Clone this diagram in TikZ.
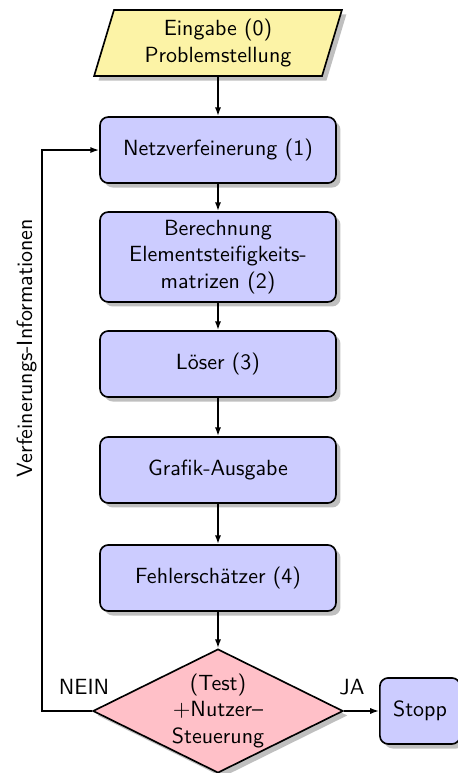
\documentclass[tikz,border=0pt]{standalone}
\usepackage{tikz}
\usetikzlibrary{arrows.meta,shapes.geometric,shadows}
\definecolor{eingabegelb}{RGB}{252,243,166}
\definecolor{kastenblau}{RGB}{204,204,255}
\definecolor{testrot}{RGB}{255,192,200}
\tikzset{
  style box/.style={
    rectangle, rounded corners=4pt, draw, thick, fill=kastenblau,
    minimum width=4cm, minimum height=1.12cm, align=center, inner sep=4pt,
    drop shadow,
  },
  style input/.style={
    trapezium, trapezium left angle=72, trapezium right angle=108,
    trapezium stretches body, draw, thick, fill=eingabegelb,
    minimum width=4.2cm, minimum height=1.12cm, align=center, drop shadow,
  },
  style test/.style={
    diamond, aspect=2, draw, thick, fill=testrot, inner sep=0pt,
    minimum width=4.24cm, minimum height=2.1cm, align=center, drop shadow,
  }
}

\begin{document}
\begin{tikzpicture}[font=\sffamily\fontsize{10.6pt}{12.7pt}\selectfont]
    \useasboundingbox (0,0) rectangle (7.763,13.102);
                    \node[style input] (eingabe) at (3.695, 12.373) {Eingabe (0)\\Problemstellung};

                    \node[style box] (netz) at (3.695, 10.559) {Netzverfeinerung (1)};
                    \node[style box] (berechnung) at (3.695, 8.746) {Berechnung\\Elementsteifigkeits-\\matrizen (2)};
                    \node[style box] (loeser) at (3.695, 6.932) {L\"oser (3)};
                    \node[style box] (grafik) at (3.695, 5.136) {Grafik-Ausgabe};
                    \node[style box] (fehler) at (3.695, 3.305) {Fehlersch\"atzer (4)};

                    \node[style test] (test) at (3.695, 1.051) {(Test)\\$+$Nutzer--\\Steuerung};
                    \node[style box, minimum width=1.36cm] (stopp) at (7.119, 1.051) {Stopp};

                    \coordinate (knick) at (0.712, 1.051);
                    \node[rotate=90] (info) at (0.45, 7.2) {Verfeinerungs-Informationen};
                    \node (nein) at (1.424, 1.46) {NEIN};
                    \node (ja) at (5.966, 1.46) {JA};

                    \begin{scope}[>={Latex[length=1.5mm,width=1.05mm]},every edge/.style={draw,thick}]
                        \path [->] (eingabe) edge (netz);
                        \path [->] (netz) edge (berechnung);
                        \path [->] (berechnung) edge (loeser);
                        \path [->] (loeser) edge (grafik);
                        \path [->] (grafik) edge (fehler);
                        \path [->] (fehler) edge (test);
                        \path [->] (test) edge (stopp);
                        \draw [->, thick] (test.west) -- (knick) |- (netz.west);
                    \end{scope}
\end{tikzpicture}
\end{document}
